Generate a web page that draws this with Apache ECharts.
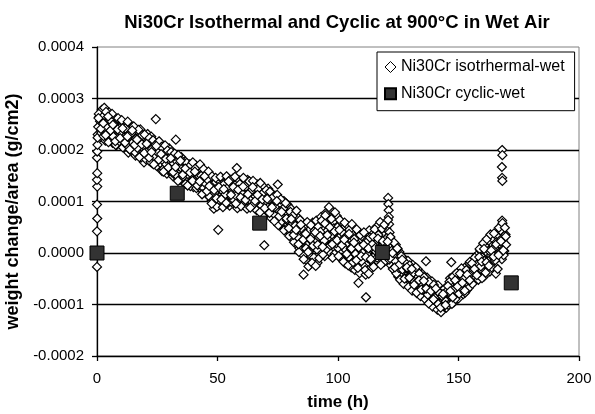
<!DOCTYPE html>
<html>
<head>
<meta charset="utf-8">
<script src="https://cdn.jsdelivr.net/npm/echarts@6/dist/echarts.min.js"></script>
<style>html,body{margin:0;padding:0;background:#fff}#c{width:595px;height:414px}</style>
</head>
<body>
<div id="c"></div>
<script>
var xTicks = [0, 50, 100, 150, 200];
var yTicks = [-0.0002, -0.0001, 0, 0.0001, 0.0002, 0.0003, 0.0004];
var seriesNames = ['Ni30Cr isotrhermal-wet', 'Ni30Cr cyclic-wet'];

// cyclic: [time h, weight change/area g/cm2]
var cyclicWet = [[0,0],[33.3,11.6e-5],[67.5,5.8e-5],[118.4,0.1e-5],[171.9,-5.8e-5]];

// isothermal: [time h, weight change/area g/cm2]
var isoWet = [
[0,-2.7e-5],[0,4.2e-5],[0.1,6.7e-5],[0,9.4e-5],[0.1,12.9e-5],[0,14.2e-5],[0.1,15.5e-5],[0,18.5e-5],[0.1,19.7e-5],[0.2,21e-5],[0.3,23e-5],
[0.5,24.5e-5],[1,26.5e-5],[1.5,22.5e-5],[2,27.8e-5],[2.5,24e-5],[3,28.2e-5],[3.5,21.8e-5],[4,26e-5],[4.5,23.2e-5],[5,27.3e-5],
[5.5,22e-5],[6,25.2e-5],[6.5,21.4e-5],[7,26.4e-5],[7.5,23.6e-5],[8,20.9e-5],[8.5,25.7e-5],[9,22.8e-5],[9.5,24.6e-5],[10,21.2e-5],
[10.5,25.4e-5],[11,23e-5],[11.5,20.4e-5],[12,24.8e-5],[12.5,22.1e-5],[13,19.5e-5],[13.5,23.9e-5],[14,21.6e-5],[14.5,24.5e-5],[15,20.2e-5],
[15.5,22.8e-5],[16,18.9e-5],[16.5,23.5e-5],[17,21e-5],[17.5,19.3e-5],[18,24e-5],[18.5,20.6e-5],[19,22.4e-5],[19.5,17.6e-5],[20,21.8e-5],
[20.5,19.2e-5],[21,23.1e-5],[21.5,18e-5],[22,20.7e-5],[22.5,22.6e-5],[23,17.4e-5],[23.5,19.9e-5],[24,21.5e-5],[24.5,18.3e-5],[25,20.1e-5],
[25.5,16.8e-5],[26,21.2e-5],[26.5,18.9e-5],[27,15.9e-5],[27.5,20e-5],[28,17.6e-5],[28.5,19.4e-5],[29,15.4e-5],[29.5,18.5e-5],[30,20.3e-5],
[30.5,16.4e-5],[31,17.9e-5],[31.5,14.9e-5],[32,19e-5],[32.5,16.9e-5],[33,18.2e-5],[33.5,14.6e-5],[34,17.3e-5],[34.5,15.5e-5],[35,18.6e-5],
[35.5,13.9e-5],[36,16.2e-5],[36.5,17.8e-5],[37,14.4e-5],[37.5,16.7e-5],[38,13.5e-5],[38.5,17.2e-5],[39,15e-5],[39.5,16.3e-5],[40,12.8e-5],
[40.5,15.7e-5],[41,17e-5],[41.5,13.3e-5],[42,14.8e-5],[42.5,16.1e-5],[43,12.4e-5],[43.5,14.1e-5],[44,15.6e-5],[44.5,11.9e-5],[45,13.7e-5],
[45.5,15e-5],[46,11.2e-5],[46.5,13.2e-5],[47,14.6e-5],[47.5,10.1e-5],[48,12.5e-5],[48.5,8.6e-5],[49,13.6e-5],[49.5,10.7e-5],[50,12e-5],
[50.5,9.3e-5],[51,13.9e-5],[51.5,11.1e-5],[52,14.3e-5],[52.5,9.6e-5],[53,12.7e-5],[53.5,10.4e-5],[54,14e-5],[54.5,11.6e-5],[55,9.2e-5],
[55.5,13.1e-5],[56,10.8e-5],[56.5,14.5e-5],[57,12.2e-5],[57.5,9.7e-5],[58,13.5e-5],[58.5,11.3e-5],[59,14.1e-5],[59.5,10.2e-5],[60,12.6e-5],
[60.5,9.4e-5],[61,13.8e-5],[61.5,11.7e-5],[62,10.5e-5],[62.5,14.2e-5],[63,12e-5],[63.5,9e-5],[64,13e-5],[64.5,10.9e-5],[65,12.4e-5],
[65.5,8.7e-5],[66,11.8e-5],[66.5,13.3e-5],[67,9.9e-5],[67.5,12.1e-5],[68,8.1e-5],[68.5,10.6e-5],[69,12.9e-5],[69.5,7.4e-5],[70,11e-5],
[70.5,9.1e-5],[71,12.5e-5],[71.5,7.8e-5],[72,10.2e-5],[72.5,11.6e-5],[73,6.9e-5],[73.5,9.5e-5],[74,11.1e-5],[74.5,6.2e-5],[75,8.8e-5],
[75.5,10.7e-5],[76,5.9e-5],[76.5,9.2e-5],[77,7.1e-5],[77.5,10.1e-5],[78,5.1e-5],[78.5,8e-5],[79,9.4e-5],[79.5,4.3e-5],[80,6.9e-5],
[80.5,8.6e-5],[81,2.9e-5],[81.5,5.8e-5],[82,7.9e-5],[82.5,1.8e-5],[83,4.6e-5],[83.5,6.8e-5],[84,0.9e-5],[84.5,3.5e-5],[85,6e-5],
[85.5,-0.4e-5],[86,2.6e-5],[86.5,5.2e-5],[87,-1.5e-5],[87.5,1.7e-5],[88,4.4e-5],[88.5,-2.2e-5],[89,0.8e-5],[89.5,5.9e-5],[90,-0.9e-5],
[90.5,2.4e-5],[91,6.3e-5],[91.5,-1.9e-5],[92,3.1e-5],[92.5,0.3e-5],[93,7e-5],[93.5,1.2e-5],[94,4.8e-5],[94.5,-0.6e-5],[95,7.8e-5],
[95.5,2.8e-5],[96,5.5e-5],[96.5,0.2e-5],[97,8.4e-5],[97.5,3.6e-5],[98,6.1e-5],[98.5,-0.2e-5],[99,4.2e-5],[99.5,7.2e-5],[100,1e-5],
[100.5,3e-5],[101,5.6e-5],[101.5,-1.2e-5],[102,2.2e-5],[102.5,4.9e-5],[103,-2e-5],[103.5,1.5e-5],[104,5.3e-5],[104.5,-0.8e-5],[105,2.9e-5],
[105.5,-2.8e-5],[106,3.8e-5],[106.5,0.4e-5],[107,-3.3e-5],[107.5,2e-5],[108,-1.4e-5],[108.5,4.1e-5],[109,-3.9e-5],[109.5,0.6e-5],[110,3.2e-5],
[110.5,-2.5e-5],[111,1.3e-5],[111.5,-4.2e-5],[112,2.5e-5],[112.5,-1e-5],[113,4.4e-5],[113.5,-3e-5],[114,0.9e-5],[114.5,3.7e-5],[115,-2.1e-5],
[115.5,1.8e-5],[116,5.1e-5],[116.5,-1.6e-5],[117,2.7e-5],[117.5,6e-5],[118,0.1e-5],[118.5,3.9e-5],[119,-1.8e-5],[119.5,2.1e-5],[120,4.7e-5],
[120.5,-0.5e-5],[120.8,10.7e-5],[120.9,9.5e-5],[121,8.3e-5],[121.1,7e-5],[121.2,5.6e-5],[121.4,4e-5],[121.5,1.4e-5],[122,-2.4e-5],[122.5,2.3e-5],
[123,-0.7e-5],[123.5,-3.4e-5],[124,1.6e-5],[124.5,-2.6e-5],[125,-4.6e-5],[125.5,0.2e-5],[126,-1.9e-5],[126.5,-4e-5],[127,-0.9e-5],[127.5,-5.3e-5],
[128,-2.7e-5],[128.5,-4.4e-5],[129,-1.5e-5],[129.5,-6e-5],[130,-3.6e-5],[130.5,-5.1e-5],[131,-2.3e-5],[131.5,-7e-5],[132,-4.5e-5],[132.5,-6.2e-5],
[133,-3.1e-5],[133.5,-7.6e-5],[134,-5.2e-5],[134.5,-6.8e-5],[135,-4.1e-5],[135.5,-8.3e-5],[136,-5.9e-5],[136.5,-7.4e-5],[137,-4.8e-5],[137.5,-9.1e-5],
[138,-6.7e-5],[138.5,-8e-5],[139,-5.5e-5],[139.5,-9.8e-5],[140,-7.3e-5],[140.5,-10.3e-5],[141,-8.5e-5],[141.5,-6.3e-5],[142,-10.8e-5],[142.5,-8.9e-5],
[143,-11.2e-5],[143.5,-7.6e-5],[144,-10e-5],[144.5,-8.1e-5],[145,-10.6e-5],[145.5,-6.6e-5],[146,-9.2e-5],[146.5,-4.9e-5],[147,-8.4e-5],[147.5,-6e-5],
[148,-9.6e-5],[148.5,-4.2e-5],[149,-7.3e-5],[149.5,-5.4e-5],[150,-8.8e-5],[150.5,-3.5e-5],[151,-6.5e-5],[151.5,-4.8e-5],[152,-8e-5],[152.5,-2.9e-5],
[153,-5.7e-5],[153.5,-7.2e-5],[154,-3.9e-5],[154.5,-2e-5],[155,-6.3e-5],[155.5,-4.4e-5],[156,-1.4e-5],[156.5,-5.1e-5],[157,-2.6e-5],[157.5,-0.5e-5],
[158,-4.3e-5],[158.5,-1.8e-5],[159,0.6e-5],[159.5,-3.2e-5],[160,-0.9e-5],[160.5,-4.6e-5],[161,1.5e-5],[161.5,-2.3e-5],[162,0e-5],[162.5,2.4e-5],
[163,-3.6e-5],[163.5,-0.4e-5],[164,2.9e-5],[164.5,-1.6e-5],[165,1e-5],[165.5,-4e-5],[166,3.3e-5],[166.5,-0.8e-5],[167,1.8e-5],[167.5,4.4e-5],
[168,-1.2e-5],[168.5,2.6e-5],[169,0.4e-5],[169.5,3.6e-5],
[168.1,20e-5],[168.2,19e-5],[168,16.7e-5],[168.1,14.6e-5],[168.2,14e-5],[168.1,6.3e-5],
[24.4,26e-5],[32.7,22e-5],[58,16.5e-5],[75,13.3e-5],[50.3,4.5e-5],[69.4,1.5e-5],[85.7,-4.2e-5],[111.6,-8.6e-5],[108.5,-5.8e-5],[136.5,-1.6e-5],[147,-1.8e-5],
[0.25,22.4e-5],[0.75,27e-5],[1.25,25.6e-5],[1.75,23.3e-5],[2.25,26.4e-5],[2.75,22.7e-5],[3.25,25.1e-5],[3.75,27.4e-5],[4.25,24.3e-5],[4.75,21.5e-5],
[5.25,25.9e-5],[5.75,23.8e-5],[6.25,27e-5],[6.75,22.6e-5],[7.25,24.9e-5],[7.75,21e-5],[8.25,23.9e-5],[8.75,26.2e-5],[9.25,21.7e-5],[9.75,23.5e-5],
[10.25,25.8e-5],[10.75,20.5e-5],[11.25,22.4e-5],[11.75,24.2e-5],[12.25,21e-5],[12.75,25.5e-5],[13.25,22.7e-5],[13.75,20e-5],[14.25,23.2e-5],[14.75,21.4e-5],
[15.25,24.6e-5],[15.75,19.6e-5],[16.25,22.2e-5],[16.75,20.4e-5],[17.25,23.9e-5],[17.75,21.7e-5],[18.25,18.5e-5],[18.75,22.9e-5],[19.25,20.9e-5],[19.75,23e-5],
[20.25,18.2e-5],[20.75,21.6e-5],[21.25,19.8e-5],[21.75,22.3e-5],[22.25,17.7e-5],[22.75,20.2e-5],[23.25,21.9e-5],[23.75,18.6e-5],[24.25,21e-5],[24.75,16.9e-5],
[25.25,19.5e-5],[25.75,21.7e-5],[26.25,17.5e-5],[26.75,20.6e-5],[27.25,18e-5],[27.75,16.4e-5],[28.25,20.9e-5],[28.75,17.2e-5],[29.25,19.9e-5],[29.75,16e-5],
[30.25,18e-5],[30.75,19.6e-5],[31.25,15.6e-5],[31.75,17.4e-5],[32.25,19.3e-5],[32.75,15.2e-5],[33.25,17.7e-5],[33.75,19e-5],[34.25,14.2e-5],[34.75,16.6e-5],
[35.25,17.9e-5],[35.75,14.8e-5],[36.25,15.6e-5],[36.75,13.4e-5],[37.25,17.5e-5],[37.75,15.3e-5],[38.25,16.8e-5],[38.75,13e-5],[39.25,15.4e-5],[39.75,17.6e-5],
[40.25,14e-5],[40.75,16.4e-5],[41.25,12.6e-5],[41.75,15.2e-5],[42.25,13.6e-5],[42.75,17.2e-5],[43.25,15e-5],[43.75,12.9e-5],[44.25,16.3e-5],[44.75,13.6e-5],
[45.25,11.6e-5],[45.75,14.3e-5],[46.25,15.8e-5],[46.75,10.9e-5],[47.25,13e-5],[47.75,14.9e-5],[48.25,10.3e-5],[48.75,11.7e-5],[49.25,14.6e-5],[49.75,9e-5],
[50.25,12.8e-5],[50.75,10.3e-5],[51.25,14.8e-5],[51.75,12.2e-5],[52.25,8.9e-5],[52.75,13.4e-5],[53.25,11.4e-5],[53.75,14.9e-5],[54.25,9.7e-5],[54.75,12.9e-5],
[55.25,14.2e-5],[55.75,9.9e-5],[56.25,12e-5],[56.75,10.3e-5],[57.25,14.8e-5],[57.75,11.1e-5],[58.25,8.7e-5],[58.75,12.3e-5],[59.25,13.4e-5],[59.75,9.1e-5],
[60.25,11.6e-5],[60.75,14.6e-5],[61.25,10.1e-5],[61.75,12.9e-5],[62.25,8.6e-5],[62.75,11.3e-5],[63.25,13.9e-5],[63.75,10.2e-5],[64.25,12.2e-5],[64.75,14e-5],
[65.25,9.6e-5],[65.75,11e-5],[66.25,8.3e-5],[66.75,12.4e-5],[67.25,10.6e-5],[67.75,13.6e-5],[68.25,9.2e-5],[68.75,11.6e-5],[69.25,7e-5],[69.75,10e-5],
[70.25,12.2e-5],[70.75,8e-5],[71.25,10.4e-5],[71.75,11.9e-5],[72.25,6.8e-5],[72.75,9e-5],[73.25,10.9e-5],[73.75,7.4e-5],[74.25,8.7e-5],[74.75,11.3e-5],
[75.25,5.4e-5],[75.75,8.1e-5],[76.25,10.4e-5],[76.75,6.2e-5],[77.25,8.6e-5],[77.75,4.6e-5],[78.25,9.7e-5],[78.75,6.4e-5],[79.25,7.7e-5],[79.75,3.3e-5],
[80.25,8e-5],[80.75,5.5e-5],[81.25,7.2e-5],[81.75,2.1e-5],[82.25,5.3e-5],[82.75,8.2e-5],[83.25,3.1e-5],[83.75,0.2e-5],[84.25,6.4e-5],[84.75,2e-5],
[85.25,4.6e-5],[85.75,-1.2e-5],[86.25,3.8e-5],[86.75,0.9e-5],[87.25,6e-5],[87.75,-2.6e-5],[88.25,2.7e-5],[88.75,5.4e-5],[89.25,-1.9e-5],[89.75,1.4e-5],
[90.25,4.3e-5],[90.75,-2.5e-5],[91.25,0.7e-5],[91.75,5.1e-5],[92.25,-1e-5],[92.75,4.1e-5],[93.25,6.3e-5],[93.75,-0.3e-5],[94.25,2.4e-5],[94.75,7.3e-5],
[95.25,0.8e-5],[95.75,4.4e-5],[96.25,8.9e-5],[96.75,1.5e-5],[97.25,6.6e-5],[97.75,-0.9e-5],[98.25,4.8e-5],[98.75,7.9e-5],[99.25,1.9e-5],[99.75,5e-5],
[100.25,-0.6e-5],[100.75,6.4e-5],[101.25,2.3e-5],[101.75,4e-5],[102.25,-1.7e-5],[102.75,5.9e-5],[103.25,0.6e-5],[103.75,3.4e-5],[104.25,-2.4e-5],[104.75,4.5e-5],
[105.25,0.9e-5],[105.75,5.6e-5],[106.25,-1.8e-5],[106.75,2.7e-5],[107.25,-0.2e-5],[107.75,4.6e-5],[108.25,-2.9e-5],[108.75,1.1e-5],[109.25,3.5e-5],[109.75,-1.6e-5],
[110.25,0e-5],[110.75,4e-5],[111.25,-3.3e-5],[111.75,2e-5],[112.25,-0.4e-5],[112.75,-4e-5],[113.25,3e-5],[113.75,-1.5e-5],[114.25,1.7e-5],[114.75,-2.7e-5],
[115.25,4.6e-5],[115.75,0.3e-5],[116.25,-0.9e-5],[116.75,3.5e-5],[117.25,1e-5],[117.75,-2.3e-5],[118.25,4.7e-5],[118.75,1.4e-5],[119.25,5.5e-5],[119.75,-0.2e-5],
[120.25,2.9e-5],[120.75,6.4e-5],[121.25,-1.3e-5],[121.75,3.1e-5],[122.25,0.4e-5],[122.75,-3.1e-5],[123.25,2e-5],[123.75,-1.6e-5],[124.25,-4e-5],[124.75,0.8e-5],
[125.25,-2.9e-5],[125.75,-5.2e-5],[126.25,-0.6e-5],[126.75,-3.2e-5],[127.25,-6e-5],[127.75,-1.8e-5],[128.25,-4.9e-5],[128.75,-3e-5],[129.25,-6.6e-5],[129.75,-2.4e-5],
[130.25,-4.3e-5],[130.75,-7.3e-5],[131.25,-3.8e-5],[131.75,-5.6e-5],[132.25,-2.8e-5],[132.75,-7.8e-5],[133.25,-5.4e-5],[133.75,-4e-5],[134.25,-8.4e-5],[134.75,-6e-5],
[135.25,-7.1e-5],[135.75,-4.7e-5],[136.25,-9e-5],[136.75,-6.4e-5],[137.25,-8.1e-5],[137.75,-5.6e-5],[138.25,-9.6e-5],[138.75,-7.1e-5],[139.25,-10.4e-5],[139.75,-6.2e-5],
[140.25,-8.7e-5],[140.75,-9.5e-5],[141.25,-11e-5],[141.75,-7.6e-5],[142.25,-9.8e-5],[142.75,-11.5e-5],[143.25,-8.4e-5],[143.75,-10.3e-5],[144.25,-6.9e-5],[144.75,-9.4e-5],
[145.25,-7.4e-5],[145.75,-10.1e-5],[146.25,-5.6e-5],[146.75,-7.9e-5],[147.25,-9.9e-5],[147.75,-4.6e-5],[148.25,-7e-5],[148.75,-8.9e-5],[149.25,-3.9e-5],[149.75,-6.1e-5],
[150.25,-7.9e-5],[150.75,-5.3e-5],[151.25,-3e-5],[151.75,-7.1e-5],[152.25,-5e-5],[152.75,-7.7e-5],[153.25,-3.3e-5],[153.75,-5.9e-5],[154.25,-6.8e-5],[154.75,-1.7e-5],
[155.25,-4e-5],[155.75,-6e-5],[156.25,-3.3e-5],[156.75,-0.9e-5],[157.25,-4.7e-5],[157.75,-2.2e-5],[158.25,-5.2e-5],[158.75,0.8e-5],[159.25,-2.6e-5],[159.75,-4.9e-5],
[160.25,1.9e-5],[160.75,-1.5e-5],[161.25,-3.8e-5],[161.75,2.7e-5],[162.25,-2.2e-5],[162.75,0.4e-5],[163.25,3.6e-5],[163.75,-2.8e-5],[164.25,0.7e-5],[164.75,3.8e-5],
[165.25,-1.4e-5],[165.75,2.1e-5],[166.25,-3.1e-5],[166.75,4.9e-5],[167.25,0e-5],[167.75,2.7e-5],[168.25,5.8e-5],[168.75,-0.4e-5],[169.25,4.9e-5],[169.75,1.6e-5],
[0.6,26.2e-5],[1.6,24.1e-5],[2.6,25.2e-5],[3.6,22.9e-5],[4.6,26.5e-5],[5.6,23.8e-5],[6.6,24.9e-5],[7.6,21.7e-5],[8.6,24e-5],[9.6,22.3e-5],
[10.6,24.2e-5],[11.6,21.4e-5],[12.6,22.6e-5],[13.6,20.1e-5],[14.6,23.8e-5],[15.6,21e-5],[16.6,22e-5],[17.6,18.6e-5],[18.6,21.1e-5],[19.6,19.4e-5],
[20.6,21.2e-5],[21.6,18.5e-5],[22.6,19.6e-5],[23.6,17.2e-5],[24.6,20.8e-5],[25.6,18.1e-5],[26.6,19.2e-5],[27.6,15.8e-5],[28.6,18.3e-5],[29.6,16.6e-5],
[30.6,18.4e-5],[31.6,15.7e-5],[32.6,16.7e-5],[33.6,14e-5],[34.6,17.9e-5],[35.6,15.2e-5],[36.6,16.4e-5],[37.6,13.1e-5],[38.6,15.6e-5],[39.6,14e-5],
[40.6,15.8e-5],[41.6,13.1e-5],[42.6,13.9e-5],[43.6,11.4e-5],[44.6,14.9e-5],[45.6,12e-5],[46.6,13e-5],[47.6,9.6e-5],[48.6,12.2e-5],[49.6,10.6e-5],
[50.6,12.8e-5],[51.6,10.4e-5],[52.6,12.4e-5],[53.6,9.7e-5],[54.6,13.9e-5],[55.6,11.3e-5],[56.6,12.8e-5],[57.6,9.6e-5],[58.6,12.3e-5],[59.6,10.8e-5],
[60.6,12.9e-5],[61.6,10.3e-5],[62.6,11.4e-5],[63.6,8.8e-5],[64.6,12.8e-5],[65.6,10.1e-5],[66.6,11.3e-5],[67.6,7.9e-5],[68.6,10.4e-5],[69.6,8.7e-5],
[70.6,10.5e-5],[71.6,7.8e-5],[72.6,8.9e-5],[73.6,6.2e-5],[74.6,10.1e-5],[75.6,7.1e-5],[76.6,8e-5],[77.6,4.4e-5],[78.6,6.7e-5],[79.6,4.8e-5],
[80.6,6.6e-5],[81.6,3.5e-5],[82.6,4.5e-5],[83.6,1.7e-5],[84.6,5.5e-5],[85.6,2.6e-5],[86.6,3.7e-5],[87.6,0.2e-5],[88.6,2.7e-5],[89.6,1.4e-5],
[90.6,4e-5],[91.6,1.6e-5],[92.6,3.3e-5],[93.6,1.2e-5],[94.6,5.7e-5],[95.6,3.5e-5],[96.6,5e-5],[97.6,1.7e-5],[98.6,4.2e-5],[99.6,2.5e-5],
[100.6,4.5e-5],[101.6,1.5e-5],[102.6,2.6e-5],[103.6,-0.2e-5],[104.6,3.7e-5],[105.6,0.9e-5],[106.6,2e-5],[107.6,-1.4e-5],[108.6,1.1e-5],[109.6,-0.6e-5],
[110.6,1.6e-5],[111.6,-0.8e-5],[112.6,0.9e-5],[113.6,-1.2e-5],[114.6,3.2e-5],[115.6,1e-5],[116.6,2.8e-5],[117.6,-0.1e-5],[118.6,2.3e-5],[119.6,0.4e-5],
[120.6,2.2e-5],[121.6,-1e-5],[122.6,0e-5],[123.6,-2.8e-5],[124.6,0.9e-5],[125.6,-2.2e-5],[126.6,-1.3e-5],[127.6,-5e-5],[128.6,-2.8e-5],[129.6,-4.8e-5],
[130.6,-3.1e-5],[131.6,-6.2e-5],[132.6,-7.7e-5],[133.6,-5.3e-5],[134.6,-7.1e-5],[135.6,-5.4e-5],[136.6,-6.9e-5],[137.6,-9.8e-5],[138.6,-7.4e-5],[139.6,-9e-5],
[140.6,-6.9e-5],[141.6,-9.9e-5],[142.6,-10.6e-5],[143.6,-8e-5],[144.6,-10.1e-5],[145.6,-6.4e-5],[146.6,-7.4e-5],[147.6,-8.6e-5],[148.6,-5.3e-5],[149.6,-6.5e-5],
[150.6,-4e-5],[151.6,-5.8e-5],[152.6,-7.3e-5],[153.6,-4.2e-5],[154.6,-5.3e-5],[155.6,-2e-5],[156.6,-3.1e-5],[157.6,-4.3e-5],[158.6,-0.8e-5],[159.6,-1.7e-5],
[160.6,0.8e-5],[161.6,-1.8e-5],[162.6,-2.5e-5],[163.6,0.5e-5],[164.6,-0.7e-5],[165.6,1.7e-5],[166.6,-0.4e-5],[167.6,2.3e-5],[168.6,0.5e-5],[169.6,3.2e-5]
];

var chart = echarts.init(document.getElementById('c'), null, {renderer: 'canvas'});
var FONT = 'Liberation Sans, Arial, sans-serif';
chart.setOption({
  animation: false,
  backgroundColor: '#ffffff',
  graphic: [{
    type: 'text', x: 337, y: 23,
    style: {text: 'Ni30Cr Isothermal and Cyclic at 900°C in Wet Air', font: 'bold 18.5px ' + FONT, fill: '#000', align: 'center', verticalAlign: 'middle', textAlign: 'center', textVerticalAlign: 'middle'}
  }],
  grid: {left: 97, right: 16, top: 47, bottom: 58, outerBoundsMode: 'none', containLabel: false, show: true, borderColor: '#808080', borderWidth: 1, backgroundColor: 'transparent'},
  legend: {
    orient: 'vertical', left: 377, top: 52,
    backgroundColor: '#fff', borderColor: '#000', borderWidth: 1,
    padding: [7, 10, 9, 7], itemGap: 10.7, itemWidth: 11, itemHeight: 11,
    textStyle: {fontFamily: FONT, fontSize: 16, color: '#000', lineHeight: 16},
    data: [{name: seriesNames[0], icon: 'diamond', itemStyle: {borderWidth: 1}}, {name: seriesNames[1], icon: 'rect'}]
  },
  xAxis: {
    type: 'value', min: xTicks[0], max: xTicks[xTicks.length - 1], interval: 50,
    name: 'time (h)', nameLocation: 'middle', nameGap: 38,
    nameTextStyle: {fontFamily: FONT, fontSize: 17, fontWeight: 'bold', color: '#000'},
    axisLine: {show: true, onZero: false, lineStyle: {color: '#000', width: 1.3}},
    axisTick: {show: true, inside: false, length: 5, lineStyle: {color: '#000', width: 1.3}},
    axisLabel: {fontFamily: FONT, fontSize: 15, color: '#000', margin: 15},
    splitLine: {show: false}
  },
  yAxis: {
    type: 'value', min: yTicks[0], max: yTicks[yTicks.length - 1], interval: 0.0001,
    name: 'weight change/area (g/cm2)', nameLocation: 'middle', nameGap: 67,
    nameTextStyle: {fontFamily: FONT, fontSize: 18, fontWeight: 'bold', color: '#000', padding: [0, 20, 0, 0]},
    axisLine: {show: true, onZero: false, lineStyle: {color: '#000', width: 1.3}},
    axisTick: {show: true, inside: false, length: 5, lineStyle: {color: '#000', width: 1.3}},
    axisLabel: {fontFamily: FONT, fontSize: 15, color: '#000', margin: 13, formatter: function (v) { return v.toFixed(4); }},
    splitLine: {show: true, showMaxLine: false, showMinLine: false, lineStyle: {color: '#000', width: 1.3}}
  },
  series: [{
    name: seriesNames[0], type: 'scatter', symbol: 'diamond', symbolSize: 9,
    itemStyle: {color: '#fff', borderColor: '#000', borderWidth: 1.2, opacity: 1},
    data: isoWet, z: 2
  }, {
    name: seriesNames[1], type: 'scatter', symbol: 'rect', symbolSize: 14,
    itemStyle: {color: '#333333', borderColor: '#000', borderWidth: 1, opacity: 1},
    data: cyclicWet, z: 3
  }]
});
</script>
</body>
</html>
